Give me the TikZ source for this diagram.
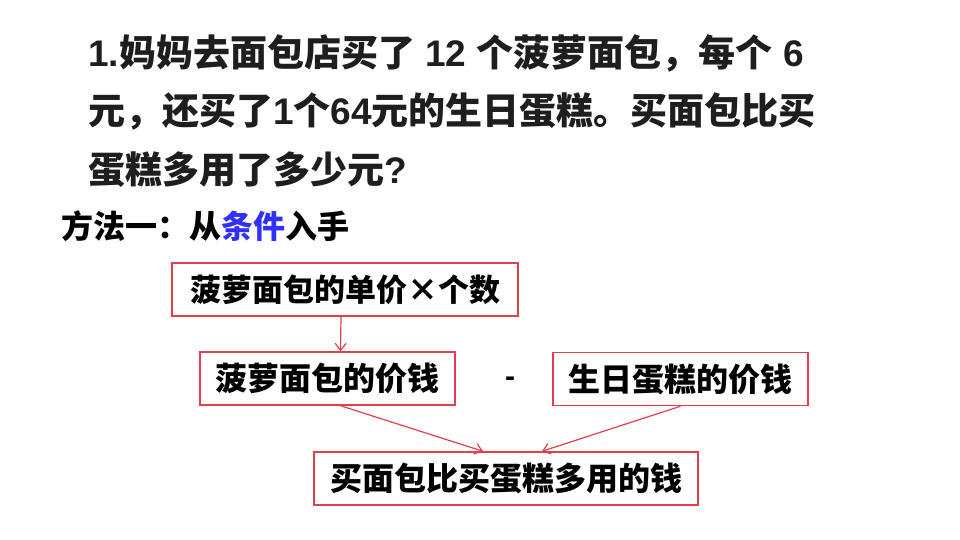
\documentclass[tikz,border=0pt]{standalone}
\usepackage{fontspec}
\setmainfont{Liberation Sans}
\newfontfamily\cjk{Noto Sans CJK SC}
\usetikzlibrary{arrows.meta}
\definecolor{boxred}{RGB}{224,64,76}
\definecolor{keyblue}{RGB}{48,48,255}
\definecolor{titlegray}{RGB}{30,30,30}
\newcommand{\lat}[1]{{\rmfamily\bfseries #1}}

\begin{document}
\begin{tikzpicture}[x=1pt, y=-1pt,
    title/.style={anchor=base west, inner sep=0pt, text=titlegray, font=\cjk\bfseries\fontsize{37}{37}\selectfont},
    box/.style={draw=boxred, line width=1.5pt, minimum height=53pt, inner sep=0pt},
    arr/.style={draw=boxred, line width=1.2pt, -{Straight Barb[length=7pt,width=11pt]}}]
    \useasboundingbox (0,0) rectangle (960,540);
    % question
    \node[title] (q1) at (88,67) {\lat{1.}妈妈去面包店买了\lat{ 12 }个菠萝面包，每个\lat{ 6}};
    \node[title] (q2) at (88,125) {元，还买了\lat{1}个\lat{64}元的生日蛋糕。买面包比买};
    \node[title] (q3) at (88,183) {蛋糕多用了多少元\lat{?}};
    \node[anchor=base west, inner sep=0pt, font=\cjk\bfseries\fontsize{32}{32}\selectfont] (method) at (61,238) {方法一：从\textcolor{keyblue}{条件}入手};
    % boxes
    \node[box, minimum width=346pt, font=\cjk\bfseries\fontsize{31}{31}\selectfont] (box1) at (345,289.5) {菠萝面包的单价×个数};
    \node[box, minimum width=255pt, font=\cjk\bfseries\fontsize{32}{32}\selectfont] (box2) at (327.5,378.5) {菠萝面包的价钱};
    \node[box, minimum width=255pt, font=\cjk\bfseries\fontsize{32}{32}\selectfont] (box3) at (680.5,379) {生日蛋糕的价钱};
    \node[box, minimum width=384pt, font=\cjk\bfseries\fontsize{32}{32}\selectfont] (box4) at (506,478.5) {买面包比买蛋糕多用的钱};
    \node[anchor=base, inner sep=0pt, font=\bfseries\fontsize{30}{30}\selectfont] (minus) at (510,386) {-};
    % arrows
    \draw[arr] ([xshift=-4pt]box1.south) -- ([xshift=13pt]box2.north);
    \draw[arr] ([xshift=13pt]box2.south) -- ([xshift=-23pt]box4.north);
    \draw[arr] (box3.south) -- ([xshift=36pt]box4.north);
\end{tikzpicture}
\end{document}
